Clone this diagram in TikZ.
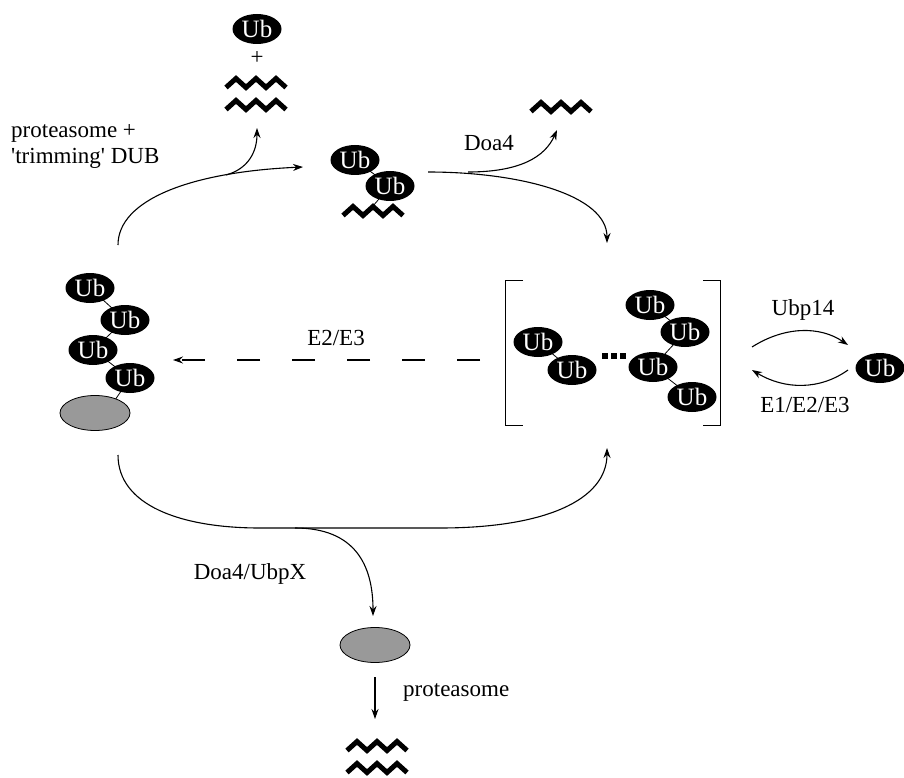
\documentclass[tikz,border=0pt]{standalone}
\usepackage{fontspec}
\newfontfamily\lib{Liberation Serif}
\usetikzlibrary{shapes.geometric,arrows.meta}
\definecolor{protgrey}{RGB}{153,153,153}
\begin{document}
\begin{tikzpicture}[x=1pt,y=-1pt,
  every node/.style={font=\lib\fontsize{23}{26}\selectfont},
  ub/.style={ellipse,fill=black,text=white,minimum width=49pt,minimum height=30pt,inner sep=0pt,font=\lib\fontsize{25}{26}\selectfont},
  subst/.style={ellipse,draw=black,line width=0.8pt,fill=protgrey,minimum width=70pt,minimum height=35pt,inner sep=0pt},
  lbl/.style={inner sep=0pt},
  arr/.style={line width=1.1pt,-{Stealth[length=10pt,width=7pt]}},
  link/.style={line width=0.8pt},
  zz/.style={line width=5pt,miter limit=10},
  zigzag/.pic={\coordinate (-c) at (0,0);
    \draw[zz] (-30,4.5) -- (-20,-4.5) -- (-10,4.5) -- (0,-4.5) -- (10,4.5) -- (20,-4.5) -- (30,4.5);}
]
\useasboundingbox (0,0) rectangle (904,778);

% ---- top: released Ub + peptides
\node[ub] (ubt) at (257,29) {Ub};
\node[lbl] (plus) at (257,58) {+};
\pic (zt1) at (256,83) {zigzag};
\pic (zt2) at (256,105) {zigzag};

% ---- middle top: di-Ub on peptide
\draw[link] (355,160) -- (390,186);
\draw[link] (390,186) -- (373,206);
\node[ub] (ubm1) at (355,160) {Ub};
\node[ub] (ubm2) at (390,186) {Ub};
\pic (zm) at (373,211) {zigzag};

% ---- top right peptide
\pic (ztr) at (561,107) {zigzag};

% ---- left: polyUb substrate
\draw[link] (90,288) -- (125,320) -- (93,350) -- (130,378) -- (115,400);
\node[ub] (ul1) at (90,288) {Ub};
\node[ub] (ul2) at (125,320) {Ub};
\node[ub] (ul3) at (93,350) {Ub};
\node[ub] (ul4) at (130,378) {Ub};
\node[subst] (g1) at (95,413) {};

% ---- bracket group of free chains
\draw[line width=1pt] (523,280) -- (505,280) -- (505,425) -- (523,425);
\draw[line width=1pt] (703,280) -- (720,280) -- (720,425) -- (703,425);
\draw[link] (538,342) -- (572,370);
\draw[link] (650,305) -- (685,332) -- (653,367) -- (692,397);
\node[ub] (ua) at (538,342) {Ub};
\node[ub] (ubb) at (572,370) {Ub};
\node[ub] (uc) at (650,305) {Ub};
\node[ub] (ud) at (685,332) {Ub};
\node[ub] (ue) at (653,367) {Ub};
\node[ub] (uf) at (692,397) {Ub};
\fill (602,353) rectangle (608,359);
\fill (611,353) rectangle (617,359);
\fill (620,353) rectangle (626,359);

% ---- free Ub on the right
\node[ub] (ubr) at (880,368) {Ub};

% ---- bottom substrate and peptides
\node[subst] (g2) at (375,645) {};
\pic (zb1) at (377,746) {zigzag};
\pic (zb2) at (377,768) {zigzag};

% ---- labels
\node[lbl,anchor=west,align=left] (lprot) at (11,146) {proteasome +\\{}'trimming' DUB};
\node[lbl] (ldoa4) at (489,143) {Doa4};
\node[lbl] (le2e3) at (336,338) {E2/E3};
\node[lbl] (lubp14) at (803,310) {Ubp14};
\node[lbl] (le1e2e3) at (805,405) {E1/E2/E3};
\node[lbl] (ldoax) at (250,574) {Doa4/UbpX};
\node[lbl,anchor=west] (lprot2) at (403,692) {proteasome};

% ---- connector coordinates
\coordinate (a0) at (118,245);
\coordinate (a1) at (303,167);
\coordinate (ab) at (226,175);
\coordinate (a2) at (257,128);
\coordinate (b0) at (428,172);
\coordinate (b1) at (607,243);
\coordinate (bb) at (468,172);
\coordinate (b2) at (557,130);
\coordinate (c0) at (118,455);
\coordinate (c1) at (607,448);
\coordinate (cb) at (295,528);
\coordinate (c2) at (373,616);
\coordinate (d0) at (480,360);
\coordinate (d1) at (173,360);
\coordinate (e0) at (752,347);
\coordinate (e1) at (848,345);
\coordinate (f0) at (848,370);
\coordinate (f1) at (752,370);
\coordinate (p0) at (375,677);
\coordinate (p1) at (375,719);

% ---- connectors
\draw[arr] (a0) .. controls (118,200) and (190,172) .. (a1);
\draw[arr] (ab) .. controls (248,169) and (257,152) .. (a2);
\draw[arr] (b0) .. controls (520,172) and (607,195) .. (b1);
\draw[arr] (bb) .. controls (520,172) and (545,157) .. (b2);
\draw[arr] (c0) .. controls (118,505) and (180,528) .. (260,528) -- (440,528) .. controls (545,528) and (607,500) .. (c1);
\draw[arr] (cb) .. controls (355,528) and (373,565) .. (c2);
\draw[line width=1.1pt,dash pattern=on 23pt off 32pt,-{Stealth[length=10pt,width=7pt]}] (d0) -- (d1);
\draw[arr] (e0) .. controls (785,326) and (820,326) .. (e1);
\draw[arr] (f0) .. controls (820,390) and (785,390) .. (f1);
\draw[arr] (p0) -- (p1);
\end{tikzpicture}
\end{document}
